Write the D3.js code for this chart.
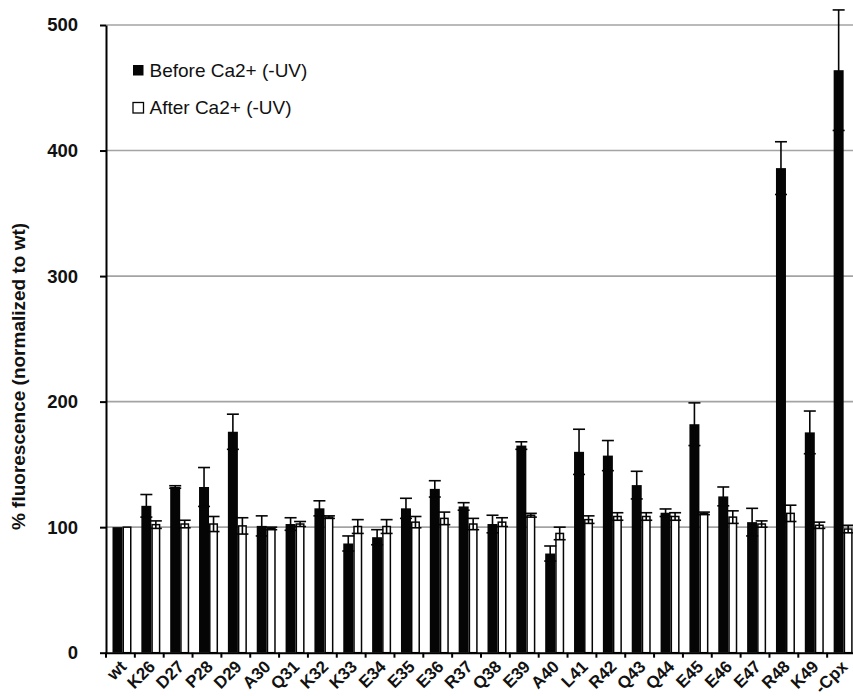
<!DOCTYPE html>
<html><head><meta charset="utf-8">
<script src="https://cdn.jsdelivr.net/npm/d3@7"></script>
<style>body{margin:0;background:#fff}svg{display:block}</style>
</head><body>
<script>
const categories = ["wt","K26","D27","P28","D29","A30","Q31","K32","K33","E34","E35","E36","R37","Q38","E39","A40","L41","R42","Q43","Q44","E45","E46","E47","R48","K49","-Cpx"];
const before    = [100,117,132,132,176,101,102.5,115,87,92,115,130.5,116.5,102.5,165,79,160,157,133.5,111.5,182,124.5,104,386,175.5,464];
const beforeErr = [0.5,9,1,15.5,14,8,5,6,6,6,8,6.5,3,7,3,6,18,12,11,3,17,7.5,11,21,17,48];
const after     = [100,102,102.5,102.5,101,99,102.5,108,100.5,100.5,104,107,102.5,104,109.5,95,106,108.5,108.5,108.5,111,108,102.5,111,101.5,98.5];
const afterErr  = [0.5,3,3,6,6.5,1,2,1,5.5,5.5,4.5,5,4.5,3.5,1.5,5,3,3,3,3,1,5,2.5,6.5,2.5,3];
const yTicks = [0,100,200,300,400,500];
const legendLabels = ["Before Ca2+ (-UV)","After Ca2+ (-UV)"];
const yTitle = "% fluorescence (normalized to wt)";

const W = 853, H = 696;
const FONT = "'Liberation Sans', Arial, sans-serif";
const svg = d3.select("body").append("svg").attr("width", W).attr("height", H)
  .style("font-family", FONT);

const x0 = 106, x1 = 856;
const x = d3.scaleBand().domain(categories).range([x0, x1]).padding(0);
const y = d3.scaleLinear().domain([0, 500]).range([652.7, 25]);

// gridlines
svg.append("g").selectAll("line").data(yTicks.filter(d => d > 0)).join("line")
  .attr("x1", x0).attr("x2", W).attr("y1", d => y(d)).attr("y2", d => y(d))
  .attr("stroke", "#a3a3a3").attr("stroke-width", 1.6);

// bars
const bw = 10, ww = 9;
const g = svg.append("g");
categories.forEach((c, i) => {
  const bx = x(c) + 6.5;
  const wx = bx + bw;
  g.append("rect").attr("x", bx).attr("y", y(before[i])).attr("width", bw)
    .attr("height", y(0) - y(before[i])).attr("fill", "#050505");
  g.append("rect").attr("x", wx + 0.75).attr("y", y(after[i])).attr("width", ww - 1.5)
    .attr("height", y(0) - y(after[i])).attr("fill", "#fff").attr("stroke", "#050505").attr("stroke-width", 1.5);
  const drawErr = (cx, v, e) => {
    if (e <= 0.6) return;
    const eg = g.append("g").attr("stroke", "#050505").attr("stroke-width", 1.6);
    eg.append("line").attr("x1", cx).attr("x2", cx).attr("y1", y(v - e)).attr("y2", y(v + e));
    eg.append("line").attr("x1", cx - 6).attr("x2", cx + 6).attr("y1", y(v + e)).attr("y2", y(v + e));
    eg.append("line").attr("x1", cx - 6).attr("x2", cx + 6).attr("y1", y(v - e)).attr("y2", y(v - e));
  };
  drawErr(bx + bw / 2, before[i], beforeErr[i]);
  drawErr(wx + ww / 2, after[i], afterErr[i]);
});

// y axis
const yAxis = d3.axisLeft(y).tickValues(yTicks).tickSize(6).tickPadding(22).tickSizeOuter(0);
const ya = svg.append("g").attr("transform", `translate(${x0},0)`).call(yAxis);
ya.select(".domain").attr("stroke", "#000").attr("stroke-width", 2);
ya.selectAll(".tick line").attr("stroke", "#000").attr("stroke-width", 2);
ya.selectAll(".tick text").attr("font-size", 18.5).attr("font-weight", "bold")
  .attr("fill", "#111").attr("font-family", FONT);

// x axis
const xAxis = d3.axisBottom(x).tickSize(5).tickSizeOuter(0).tickFormat("");
const xa = svg.append("g").attr("transform", `translate(0,${y(0)})`).call(xAxis);
xa.select(".domain").attr("stroke", "#000").attr("stroke-width", 2);
xa.selectAll(".tick").attr("transform", d => `translate(${x(d)},0)`);
xa.selectAll(".tick line").attr("stroke", "#000").attr("stroke-width", 2);
svg.append("g").selectAll("text").data(categories).join("text")
  .attr("transform", d => `translate(${x(d) + x.bandwidth() / 2 + 7},${y(0) + 15}) rotate(-45)`)
  .attr("text-anchor", "end").attr("font-size", 17).attr("font-weight", "bold").attr("fill", "#111")
  .text(d => d);

// y title
svg.append("text").attr("transform", `translate(25,376.5) rotate(-90)`)
  .attr("text-anchor", "middle").attr("font-size", 19).attr("font-weight", "bold").attr("fill", "#111")
  .text(yTitle);

// legend
const lg = svg.append("g");
legendLabels.forEach((l, i) => {
  const ly = 70 + i * 37.5;
  lg.append("rect").attr("x", 133).attr("y", ly - 5).attr("width", 10.5).attr("height", 10.5)
    .attr("fill", i === 0 ? "#050505" : "#fff").attr("stroke", "#050505").attr("stroke-width", i === 0 ? 0 : 1.3);
  lg.append("text").attr("x", 149.5).attr("y", ly + 6.5).attr("font-size", 19).attr("fill", "#111").text(l);
});
</script>
</body></html>
